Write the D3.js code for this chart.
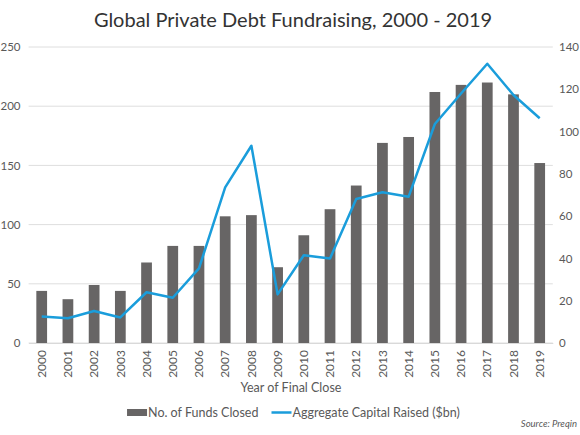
<!DOCTYPE html>
<html>
<head>
<meta charset="utf-8">
<script src="https://cdn.jsdelivr.net/npm/d3@7"></script>
<style>
  body { margin: 0; background: #fff; }
  svg text { font-family: Lato, "Noto Sans", sans-serif; }
</style>
</head>
<body>
<div id="container"><svg></svg></div>
<script>
let width = 580;
let height = 435;

// data
let years = ["2000","2001","2002","2003","2004","2005","2006","2007","2008","2009",
             "2010","2011","2012","2013","2014","2015","2016","2017","2018","2019"];
let fundsClosed = [44, 37, 49, 44, 68, 82, 82, 107, 108, 64,
                   91, 113, 133, 169, 174, 212, 218, 220, 210, 152];
let capitalRaised = [12.5, 11.7, 15.1, 12.1, 24, 21.4, 35.3, 73.6, 93.3, 23,
                     41.5, 40, 68.1, 71.3, 69.2, 103.6, 118, 132.1, 117.3, 106.3];
let leftTicks = [0, 50, 100, 150, 200, 250];
let rightTicks = [0, 20, 40, 60, 80, 100, 120, 140];
let legendNames = ["No. of Funds Closed", "Aggregate Capital Raised ($bn)"];

let barColor = "#676565";
let lineColor = "#1a9ddb";
let textColor = "#595959";
let font = "Lato, 'Noto Sans', sans-serif";

let svg = d3.select('#container').select('svg')
    .attr('width', width)
    .attr('height', height);

let x = d3.scaleBand()
    .domain(years)
    .range([28.6, 552.8])
    .paddingInner(0.59)
    .paddingOuter(0.295);

let yLeft = d3.scaleLinear().domain([0, 250]).range([343, 47]);
let yRight = d3.scaleLinear().domain([0, 140]).range([343, 47]);

// title
svg.append("text")
    .attr("x", 293).attr("y", 27)
    .attr("text-anchor", "middle")
    .attr("font-size", 20)
    .attr("fill", "#333")
    .text("Global Private Debt Fundraising, 2000 - 2019");

// gridlines
svg.append("g")
    .selectAll("line")
    .data(leftTicks)
    .join("line")
    .attr("x1", 28.6).attr("x2", 552.8)
    .attr("y1", d => yLeft(d)).attr("y2", d => yLeft(d))
    .attr("stroke", "#dedede")
    .attr("stroke-width", 1);

// left axis
let leftAxis = svg.append("g")
    .attr("transform", "translate(20.5,0)")
    .call(d3.axisLeft(yLeft).tickValues(leftTicks).tickSize(0).tickPadding(0));
leftAxis.select(".domain").remove();
leftAxis.selectAll("text").attr("font-size", 11.5).attr("fill", textColor)
    .attr("font-family", font);

// right axis
let rightAxis = svg.append("g")
    .attr("transform", "translate(559,0)")
    .call(d3.axisRight(yRight).tickValues(rightTicks).tickSize(0).tickPadding(0));
rightAxis.select(".domain").remove();
rightAxis.selectAll("text").attr("font-size", 11.5).attr("fill", textColor)
    .attr("font-family", font);

// bars
svg.append("g")
    .selectAll("rect")
    .data(years)
    .join("rect")
    .attr("x", d => x(d))
    .attr("width", x.bandwidth())
    .attr("y", (d, i) => yLeft(fundsClosed[i]))
    .attr("height", (d, i) => yLeft(0) - yLeft(fundsClosed[i]))
    .attr("fill", barColor);

// line
let line = d3.line()
    .x((d, i) => x(years[i]) + x.bandwidth() / 2)
    .y(d => yRight(d));

svg.append("path")
    .datum(capitalRaised)
    .attr("d", line)
    .attr("fill", "none")
    .attr("stroke", lineColor)
    .attr("stroke-width", 2.5)
    .attr("stroke-linejoin", "round");

// x axis
let xAxis = svg.append("g")
    .attr("transform", "translate(0,343)")
    .call(d3.axisBottom(x).tickSize(0).tickPadding(0));
xAxis.select(".domain").attr("stroke", "#d9d9d9");
xAxis.selectAll("text")
    .attr("font-size", 12)
    .attr("fill", textColor)
    .attr("font-family", font)
    .attr("text-anchor", "end")
    .attr("dy", "0.35em")
    .attr("transform", "translate(0,7) rotate(-90)")
    .attr("x", 0).attr("y", 0);

svg.append("text")
    .attr("x", 291).attr("y", 392)
    .attr("text-anchor", "middle")
    .attr("font-size", 12.5)
    .attr("fill", textColor)
    .text("Year of Final Close");

// legend, laid out from measured text widths and centred
let legend = svg.append("g");
let t1 = legend.append("text")
    .attr("y", 417)
    .attr("font-size", 12.5)
    .attr("fill", textColor)
    .text(legendNames[0]);
let t2 = legend.append("text")
    .attr("y", 417)
    .attr("font-size", 12.5)
    .attr("fill", textColor)
    .text(legendNames[1]);
let w1 = t1.node().getComputedTextLength();
let w2 = t2.node().getComputedTextLength();
let sw = 20, gap = 14;
let total = sw + w1 + gap + sw + w2;
let lx = 293 - total / 2;
legend.append("rect")
    .attr("x", lx).attr("y", 409)
    .attr("width", sw).attr("height", 7)
    .attr("fill", barColor);
t1.attr("x", lx + sw + 1);
let lx2 = lx + sw + w1 + gap;
legend.append("line")
    .attr("x1", lx2).attr("x2", lx2 + sw)
    .attr("y1", 412.5).attr("y2", 412.5)
    .attr("stroke", lineColor)
    .attr("stroke-width", 2.5);
t2.attr("x", lx2 + sw + 1);

svg.append("text")
    .attr("x", 577).attr("y", 427)
    .attr("text-anchor", "end")
    .attr("font-size", 9.5)
    .attr("font-style", "italic")
    .attr("fill", textColor)
    .text("Source: Preqin");
</script>
</body>
</html>
